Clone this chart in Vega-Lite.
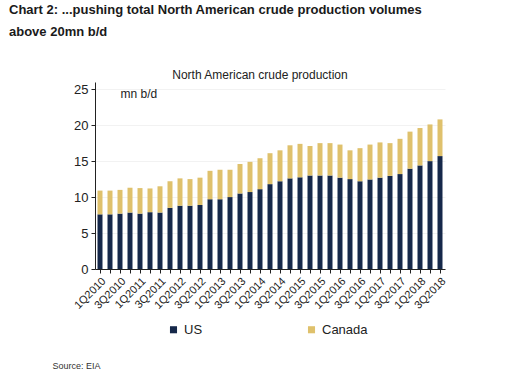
{
  "$schema": "https://vega.github.io/schema/vega-lite/v6.json",
  "width": 350,
  "height": 187,
  "autosize": {"type": "none"},
  "padding": {"left": 95, "top": 82, "right": 84, "bottom": 104},
  "background": "white",
  "config": {"font": "Liberation Sans", "view": {"stroke": null}},
  "title": {
    "text": ["Chart 2: ...pushing total North American crude production volumes", "above 20mn b/d"],
    "anchor": "start",
    "dx": -43,
    "fontSize": 13,
    "fontWeight": "bold",
    "lineHeight": 22,
    "color": "#1a1a1a",
    "offset": 30
  },
  "layer": [
    {
      "data": {
        "values": [
          {"quarter": "1Q2010", "series": "US", "value": 7.6}, {"quarter": "1Q2010", "series": "Canada", "value": 3.3},
          {"quarter": "2Q2010", "series": "US", "value": 7.6}, {"quarter": "2Q2010", "series": "Canada", "value": 3.3},
          {"quarter": "3Q2010", "series": "US", "value": 7.7}, {"quarter": "3Q2010", "series": "Canada", "value": 3.3},
          {"quarter": "4Q2010", "series": "US", "value": 7.85}, {"quarter": "4Q2010", "series": "Canada", "value": 3.45},
          {"quarter": "1Q2011", "series": "US", "value": 7.7}, {"quarter": "1Q2011", "series": "Canada", "value": 3.55},
          {"quarter": "2Q2011", "series": "US", "value": 7.9}, {"quarter": "2Q2011", "series": "Canada", "value": 3.3},
          {"quarter": "3Q2011", "series": "US", "value": 7.85}, {"quarter": "3Q2011", "series": "Canada", "value": 3.65},
          {"quarter": "4Q2011", "series": "US", "value": 8.5}, {"quarter": "4Q2011", "series": "Canada", "value": 3.7},
          {"quarter": "1Q2012", "series": "US", "value": 8.8}, {"quarter": "1Q2012", "series": "Canada", "value": 3.8},
          {"quarter": "2Q2012", "series": "US", "value": 8.8}, {"quarter": "2Q2012", "series": "Canada", "value": 3.7},
          {"quarter": "3Q2012", "series": "US", "value": 8.9}, {"quarter": "3Q2012", "series": "Canada", "value": 3.8},
          {"quarter": "4Q2012", "series": "US", "value": 9.7}, {"quarter": "4Q2012", "series": "Canada", "value": 3.95},
          {"quarter": "1Q2013", "series": "US", "value": 9.7}, {"quarter": "1Q2013", "series": "Canada", "value": 4.1},
          {"quarter": "2Q2013", "series": "US", "value": 10.0}, {"quarter": "2Q2013", "series": "Canada", "value": 3.8},
          {"quarter": "3Q2013", "series": "US", "value": 10.5}, {"quarter": "3Q2013", "series": "Canada", "value": 4.1},
          {"quarter": "4Q2013", "series": "US", "value": 10.7}, {"quarter": "4Q2013", "series": "Canada", "value": 4.2},
          {"quarter": "1Q2014", "series": "US", "value": 11.1}, {"quarter": "1Q2014", "series": "Canada", "value": 4.3},
          {"quarter": "2Q2014", "series": "US", "value": 11.8}, {"quarter": "2Q2014", "series": "Canada", "value": 4.3},
          {"quarter": "3Q2014", "series": "US", "value": 12.2}, {"quarter": "3Q2014", "series": "Canada", "value": 4.3},
          {"quarter": "4Q2014", "series": "US", "value": 12.6}, {"quarter": "4Q2014", "series": "Canada", "value": 4.6},
          {"quarter": "1Q2015", "series": "US", "value": 12.75}, {"quarter": "1Q2015", "series": "Canada", "value": 4.65},
          {"quarter": "2Q2015", "series": "US", "value": 13.0}, {"quarter": "2Q2015", "series": "Canada", "value": 4.1},
          {"quarter": "3Q2015", "series": "US", "value": 13.0}, {"quarter": "3Q2015", "series": "Canada", "value": 4.5},
          {"quarter": "4Q2015", "series": "US", "value": 13.0}, {"quarter": "4Q2015", "series": "Canada", "value": 4.5},
          {"quarter": "1Q2016", "series": "US", "value": 12.7}, {"quarter": "1Q2016", "series": "Canada", "value": 4.6},
          {"quarter": "2Q2016", "series": "US", "value": 12.5}, {"quarter": "2Q2016", "series": "Canada", "value": 4.0},
          {"quarter": "3Q2016", "series": "US", "value": 12.2}, {"quarter": "3Q2016", "series": "Canada", "value": 4.6},
          {"quarter": "4Q2016", "series": "US", "value": 12.45}, {"quarter": "4Q2016", "series": "Canada", "value": 4.85},
          {"quarter": "1Q2017", "series": "US", "value": 12.7}, {"quarter": "1Q2017", "series": "Canada", "value": 4.9},
          {"quarter": "2Q2017", "series": "US", "value": 12.95}, {"quarter": "2Q2017", "series": "Canada", "value": 4.55},
          {"quarter": "3Q2017", "series": "US", "value": 13.2}, {"quarter": "3Q2017", "series": "Canada", "value": 4.9},
          {"quarter": "4Q2017", "series": "US", "value": 13.95}, {"quarter": "4Q2017", "series": "Canada", "value": 5.15},
          {"quarter": "1Q2018", "series": "US", "value": 14.4}, {"quarter": "1Q2018", "series": "Canada", "value": 5.2},
          {"quarter": "2Q2018", "series": "US", "value": 15.0}, {"quarter": "2Q2018", "series": "Canada", "value": 5.1},
          {"quarter": "3Q2018", "series": "US", "value": 15.7}, {"quarter": "3Q2018", "series": "Canada", "value": 5.1}
        ]
      },
      "mark": {"type": "bar"},
      "encoding": {
        "x": {
          "field": "quarter",
          "type": "ordinal",
          "sort": null,
          "scale": {"paddingInner": 0.5, "paddingOuter": 0.25},
          "axis": {
            "title": "Source: EIA",
            "titleX": -43,
            "titleY": 96,
            "titleAlign": "left",
            "titleBaseline": "middle",
            "titleFontSize": 9,
            "titleFontWeight": "normal",
            "titleColor": "#333",
            "labelAngle": -45,
            "labelFontSize": 11,
            "labelColor": "#222",
            "labelOverlap": false,
            "labelExpr": "slice(datum.value,0,1) == '1' || slice(datum.value,0,1) == '3' ? datum.value : ''",
            "domainColor": "#222",
            "tickColor": "#222",
            "tickSize": 4,
            "labelPadding": 2
          }
        },
        "y": {
          "field": "value",
          "type": "quantitative",
          "stack": "zero",
          "scale": {"domain": [0, 25]},
          "axis": {
            "values": [0, 5, 10, 15, 20, 25],
            "title": "mn b/d",
            "titleAngle": 0,
            "titleX": 25,
            "titleY": 11,
            "titleAlign": "left",
            "titleBaseline": "middle",
            "titleFontSize": 12,
            "titleFontWeight": "normal",
            "titleColor": "#222",
            "labelFontSize": 13,
            "labelColor": "#222",
            "labelPadding": 3,
            "domainColor": "#222",
            "tickColor": "#222",
            "tickSize": 4,
            "grid": true,
            "gridColor": "#f2f2f2"
          }
        },
        "color": {
          "field": "series",
          "type": "nominal",
          "scale": {"domain": ["US", "Canada"], "range": ["#16284a", "#dfc16c"]},
          "legend": {
            "title": null,
            "orient": "none",
            "legendX": 72,
            "legendY": 241,
            "direction": "horizontal",
            "symbolType": "square",
            "symbolSize": 50,
            "symbolStrokeWidth": 0,
            "labelFontSize": 13,
            "labelColor": "#222",
            "columnPadding": 102
          }
        },
        "order": {"field": "series", "sort": "descending"}
      }
    },
    {
      "data": {"values": [{"label": "North American crude production"}]},
      "mark": {"type": "text", "fontSize": 12, "color": "#222", "baseline": "middle", "dy": -14},
      "encoding": {
        "x": {"datum": "1Q2014"},
        "y": {
          "datum": 25,
          "axis": {
            "values": [0, 5, 10, 15, 20, 25],
            "title": "mn b/d",
            "titleAngle": 0,
            "titleX": 25,
            "titleY": 11,
            "titleAlign": "left",
            "titleBaseline": "middle",
            "titleFontSize": 12,
            "titleFontWeight": "normal",
            "titleColor": "#222",
            "labelFontSize": 13,
            "labelColor": "#222",
            "labelPadding": 3,
            "domainColor": "#222",
            "tickColor": "#222",
            "tickSize": 4,
            "grid": true,
            "gridColor": "#f2f2f2"
          }
        },
        "text": {"field": "label"}
      }
    }
  ]
}
